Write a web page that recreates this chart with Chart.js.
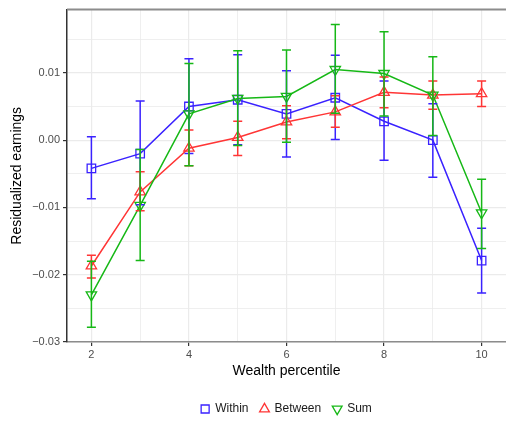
<!DOCTYPE html>
<html>
<head>
<meta charset="utf-8">
<script src="https://cdn.jsdelivr.net/npm/chart.js@4.4.0/dist/chart.umd.min.js"></script>
<style>
  html, body { margin: 0; padding: 0; background: #fff; overflow: hidden; }
  #wrap { width: 506px; height: 427px; }
  canvas { display: block; }
</style>
</head>
<body>
<div id="wrap"><canvas id="myChart" width="506" height="427"></canvas></div>
<script>
const percentiles = [2, 3, 4, 5, 6, 7, 8, 9, 10];

const withinVal = [-0.0042, -0.0020, 0.0050, 0.0060, 0.0039, 0.0063, 0.0028, 0.0000, -0.0179];
const withinLo = [-0.0087, -0.0096, -0.0020, -0.0007, -0.0025, 0.0001, -0.0030, -0.0055, -0.0227];
const withinHi = [0.0005, 0.0058, 0.0121, 0.0127, 0.0103, 0.0126, 0.0088, 0.0054, -0.0131];

const betweenVal = [-0.0187, -0.0077, -0.0012, 0.0004, 0.0027, 0.0042, 0.0071, 0.0067, 0.0069];
const betweenLo = [-0.0205, -0.0105, -0.0038, -0.0023, 0.0002, 0.0019, 0.0048, 0.0046, 0.0050];
const betweenHi = [-0.0171, -0.0047, 0.0015, 0.0028, 0.0051, 0.0066, 0.0094, 0.0088, 0.0088];

const sumVal = [-0.0230, -0.0097, 0.0039, 0.0062, 0.0065, 0.0105, 0.0099, 0.0067, -0.0108];
const sumLo = [-0.0278, -0.0179, -0.0038, -0.0008, -0.0003, 0.0040, 0.0036, 0.0007, -0.0161];
const sumHi = [-0.0180, -0.0014, 0.0114, 0.0133, 0.0134, 0.0172, 0.0161, 0.0124, -0.0058];

// y gridlines (major every 0.01, minor between), labels on the major ones
const yGrid = [-0.03, -0.025, -0.02, -0.015, -0.01, -0.005, 0, 0.005, 0.01, 0.015];
const yTickLabels = ['\u22120.03', '\u22120.02', '\u22120.01', '0.00', '0.01'];
const xGrid = [2, 3, 4, 5, 6, 7, 8, 9, 10];
const xTickLabels = ['2', '4', '6', '8', '10'];

const points = (vals, lo, hi) =>
  percentiles.map((p, i) => ({ x: p, y: vals[i], yMin: lo[i], yMax: hi[i] }));

const isMajorY = (v) => Math.abs(Math.round(v * 100) - v * 100) < 1e-6;

const errorBars = {
  id: 'errorBars',
  afterDatasetsDraw(chart) {
    const { ctx, scales: { x, y } } = chart;
    chart.data.datasets.forEach((ds) => {
      ctx.save();
      ctx.strokeStyle = ds.borderColor;
      ctx.lineWidth = 1.5;
      ds.data.forEach((p) => {
        const px = x.getPixelForValue(p.x);
        const top = y.getPixelForValue(p.yMax);
        const bot = y.getPixelForValue(p.yMin);
        ctx.beginPath();
        ctx.moveTo(px, top);
        ctx.lineTo(px, bot);
        ctx.moveTo(px - 4.5, top);
        ctx.lineTo(px + 4.5, top);
        ctx.moveTo(px - 4.5, bot);
        ctx.lineTo(px + 4.5, bot);
        ctx.stroke();
      });
      ctx.restore();
    });
    // top border of the panel
    const a = chart.chartArea;
    ctx.save();
    ctx.strokeStyle = '#8c8c8c';
    ctx.lineWidth = 2;
    ctx.beginPath();
    ctx.moveTo(a.left, a.top);
    ctx.lineTo(a.right, a.top);
    ctx.stroke();
    ctx.restore();
  },
};

const series = (label, data, color, style, rot, order) => ({
  label,
  data,
  borderColor: color,
  backgroundColor: 'transparent',
  borderWidth: 1.5,
  pointStyle: style,
  pointRotation: rot,
  pointRadius: 6,
  pointBorderWidth: 1.3,
  pointBackgroundColor: 'transparent',
  pointBorderColor: color,
  tension: 0,
  order,
});

new Chart(document.getElementById('myChart'), {
  type: 'line',
  data: {
    datasets: [
      series('Within', points(withinVal, withinLo, withinHi), '#3a22ff', 'rect', 0, 2),
      series('Between', points(betweenVal, betweenLo, betweenHi), '#ff3535', 'triangle', 0, 1),
      series('Sum', points(sumVal, sumLo, sumHi), '#16b816', 'triangle', 180, 0),
    ],
  },
  options: {
    responsive: false,
    animation: false,
    layout: { autoPadding: false, padding: { left: 0, right: 0, top: 9, bottom: 2 } },
    plugins: {
      tooltip: { enabled: false },
      legend: {
        position: 'bottom',
        fullSize: false,
        labels: {
          usePointStyle: true,
          boxWidth: 8,
          boxHeight: 8,
          padding: 12,
          color: '#1a1a1a',
          font: { family: 'Liberation Sans', size: 12 },
          sort: (a, b) => a.datasetIndex - b.datasetIndex,
        },
      },
    },
    scales: {
      x: {
        type: 'linear',
        min: 1.5,
        max: 10.5,
        afterBuildTicks: (s) => { s.ticks = xGrid.map((v) => ({ value: v })); },
        afterFit: (s) => { s.height = 49; s.paddingLeft = 0; s.paddingRight = 0; },
        border: { color: '#8c8c8c', width: 1.5 },
        grid: {
          color: '#ebebeb',
          lineWidth: (c) => (c.tick && c.tick.value % 2 === 0 ? 1.2 : 0.8),
          tickColor: (c) => (c.tick && c.tick.value % 2 === 0 ? '#333' : 'transparent'),
          tickLength: 4,
        },
        ticks: {
          padding: 2,
          autoSkip: false,
          maxRotation: 0,
          color: '#4d4d4d',
          font: { family: 'Liberation Sans', size: 11 },
          callback: (v) => (xTickLabels.includes(String(v)) ? String(v) : ''),
        },
        title: {
          display: true,
          text: 'Wealth percentile',
          color: '#000',
          font: { family: 'Liberation Sans', size: 14 },
          padding: { top: 0, bottom: 11 },
        },
      },
      y: {
        type: 'linear',
        min: -0.03,
        max: 0.0194,
        afterBuildTicks: (s) => { s.ticks = yGrid.map((v) => ({ value: v })); },
        afterFit: (s) => { s.width = 67; },
        border: { color: '#333', width: 1.5 },
        grid: {
          color: '#ebebeb',
          lineWidth: (c) => (c.tick && isMajorY(c.tick.value) ? 1.2 : 0.8),
          tickColor: (c) => (c.tick && isMajorY(c.tick.value) ? '#333' : 'transparent'),
          tickLength: 4,
        },
        ticks: {
          padding: 3,
          autoSkip: false,
          color: '#4d4d4d',
          font: { family: 'Liberation Sans', size: 11 },
          callback: (v) => (isMajorY(v) ? yTickLabels[Math.round(v * 100) + 3] : ''),
        },
        title: {
          display: true,
          text: 'Residualized earnings',
          color: '#000',
          font: { family: 'Liberation Sans', size: 14 },
          padding: { top: 9, bottom: 0 },
        },
      },
    },
  },
  plugins: [errorBars],
});
</script>
</body>
</html>
